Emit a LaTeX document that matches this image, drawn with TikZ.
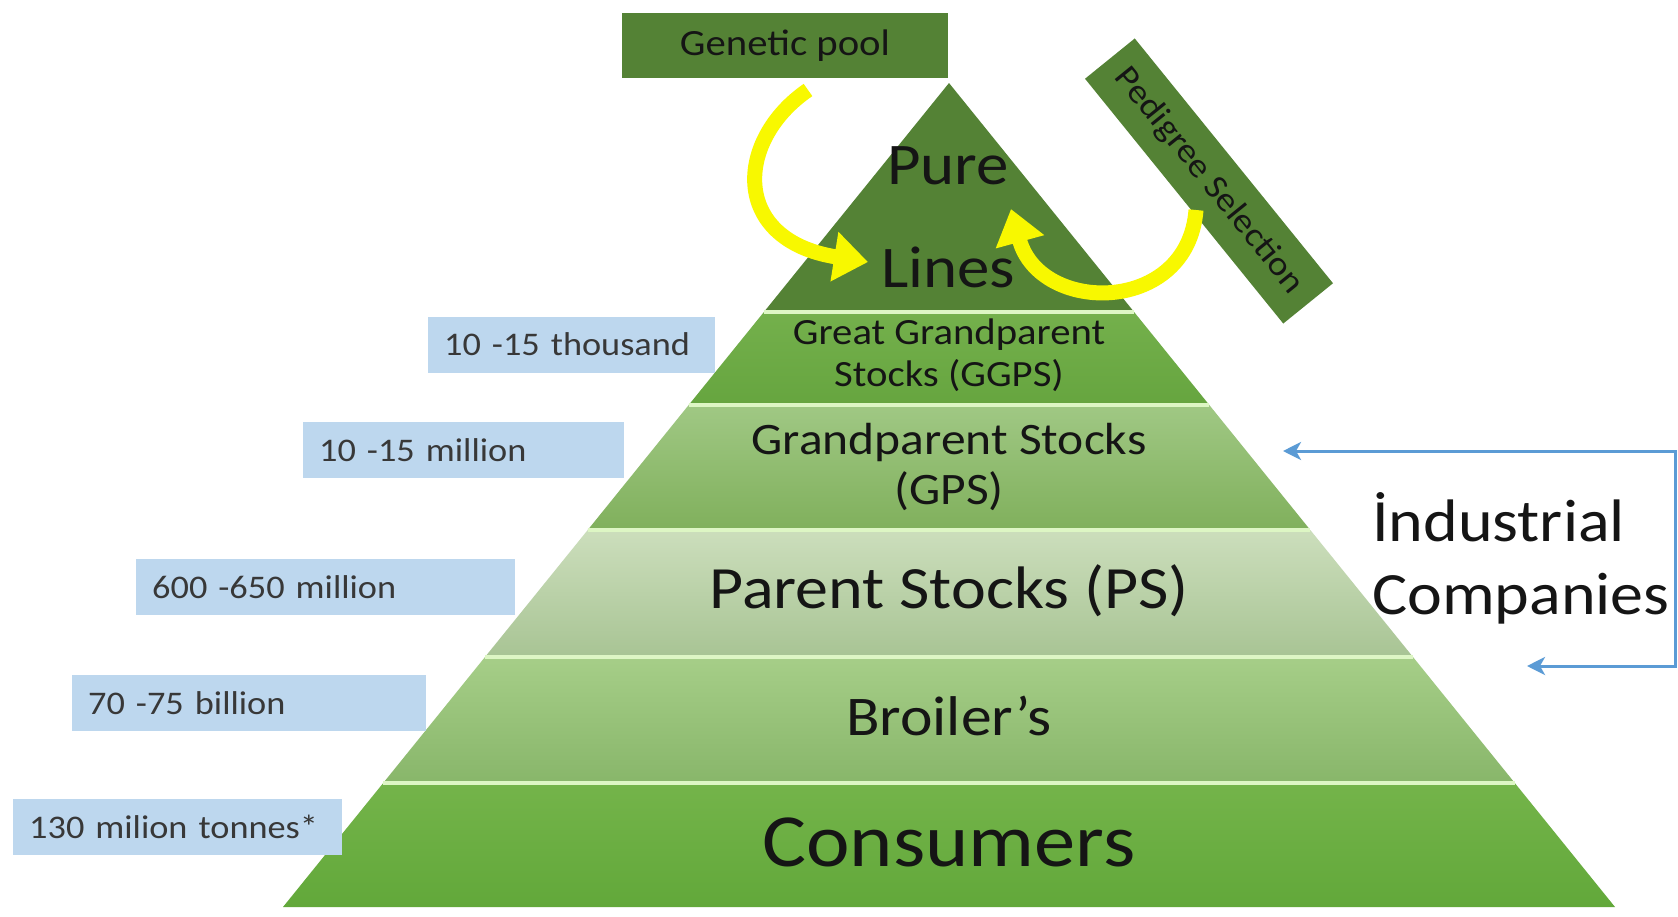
\documentclass[tikz,border=0pt]{standalone}
\usepackage{fontspec}
\setmainfont{Carlito}[FakeStretch=1.1]
\usetikzlibrary{arrows.meta}
\definecolor{dkgreen}{HTML}{548235}
\definecolor{lblue}{HTML}{BDD7EE}
\definecolor{sepgreen}{HTML}{DDF6C4}
\definecolor{arrblue}{HTML}{5B9BD5}
\definecolor{yel}{HTML}{F8F800}
\definecolor{txt}{HTML}{151515}
\definecolor{ggT}{HTML}{74B04C}
\definecolor{ggB}{HTML}{66A53F}
\definecolor{gpT}{RGB}{160,200,132}
\definecolor{gpB}{RGB}{128,176,92}
\definecolor{psT}{RGB}{204,222,188}
\definecolor{psB}{RGB}{168,196,148}
\definecolor{brT}{RGB}{166,206,136}
\definecolor{brB}{RGB}{136,182,106}
\definecolor{coT}{RGB}{116,180,74}
\definecolor{coB}{RGB}{98,168,58}
\newcommand{\fs}[1]{\fontsize{#1}{#1}\selectfont}
\tikzset{
  lbl/.style={fill=lblue, anchor=west, minimum height=56pt, inner xsep=16pt, inner ysep=0pt, align=left, text=txt!85!white, font=\fs{33}},
  bandtxt/.style={text=txt, align=center, inner sep=0pt},
  sepline/.style={draw=sepgreen, line width=4pt},
  yarrow/.style={draw=yel, line width=15pt, -{Triangle[length=34pt,width=48pt]}},
  barrow/.style={draw=arrblue, line width=3pt, {Stealth[length=18pt,width=18pt,inset=5pt]}-{Stealth[length=18pt,width=18pt,inset=5pt]}},
}
\begin{document}
\begin{tikzpicture}[x=1pt,y=-1pt]
\fill[white] (0,0) rectangle (1678,916);
\useasboundingbox (0,0) rectangle (1678,916);

% pyramid bands
\fill[dkgreen] (949,83) -- (1134.1,312) -- (763.9,312) -- cycle;
\shade[top color=ggT, bottom color=ggB] (763.9,312) -- (1134.1,312) -- (1209.3,405) -- (688.7,405) -- cycle;
\shade[top color=gpT, bottom color=gpB] (688.7,405) -- (1209.3,405) -- (1310.3,530) -- (587.7,530) -- cycle;
\shade[top color=psT, bottom color=psB] (587.7,530) -- (1310.3,530) -- (1413,657) -- (485,657) -- cycle;
\shade[top color=brT, bottom color=brB] (485,657) -- (1413,657) -- (1514.8,783) -- (383.2,783) -- cycle;
\shade[top color=coT, bottom color=coB] (383.2,783) -- (1514.8,783) -- (1615,907) -- (283,907) -- cycle;

% separator lines
\draw[sepline] (763.9,312) -- (1134.1,312);
\draw[sepline] (688.7,405) -- (1209.3,405);
\draw[sepline] (587.7,530) -- (1310.3,530);
\draw[sepline] (485,657) -- (1413,657);
\draw[sepline] (383.2,783) -- (1514.8,783);

% band texts
\node[bandtxt, anchor=base, font=\fs{59}] (pure) at (948,184) {Pure};
\node[bandtxt, anchor=base, font=\fs{59}] (lines) at (948,287) {Lines};
\node[bandtxt, font=\fs{37}, align=center] (ggps) at (949,355) {Great Grandparent\\[5pt]Stocks (GGPS)};
\node[bandtxt, font=\fs{45}, align=center] (gps) at (949,467) {Grandparent Stocks\\[5pt](GPS)};
\node[bandtxt, font=\fs{60}] (ps) at (949,591) {Parent Stocks (PS)};
\node[bandtxt, font=\fs{56}] (broil) at (949,716) {Broiler’s};
\node[bandtxt, font=\fs{75}] (cons) at (949,842) {Consumers};

% top boxes
\node[fill=dkgreen, minimum width=326pt, minimum height=65pt, inner sep=0pt, text=txt, font=\fs{37}] (gp) at (785,45.5) {Genetic pool};
\node[fill=dkgreen, minimum width=315pt, minimum height=64pt, inner sep=0pt, rotate=-51, text=txt, font=\fs{34}] (ped) at (1209,181) {Pedigree Selection};

% yellow arrows
\coordinate (ga) at (808,90);
\coordinate (gb) at (868,262);
\coordinate (pa) at (1196,210);
\coordinate (pb) at (1011,209);
\draw[yarrow] (ga) .. controls (735,140) and (730,240) .. (gb);
\draw[yarrow] (pa) .. controls (1188,315) and (1040,315) .. (pb);

% left labels
\node[lbl, text width=255pt] (l1) at (428,344.5) {\mbox{10 -15 thousand}};
\node[lbl, text width=289pt] (l2) at (303,450) {\mbox{10 -15 million}};
\node[lbl, text width=347pt] (l3) at (136,587) {\mbox{600 -650 million}};
\node[lbl, text width=322pt] (l4) at (72,703) {\mbox{70 -75 billion}};
\node[lbl, text width=297pt] (l5) at (13,826.5) {\mbox{130 milion tonnes*}};

% industrial companies
\node[anchor=west, inner sep=0pt, align=left, text=txt, font=\fs{60}] (ind) at (1372,558) {İndustrial\\[13pt]Companies};
\coordinate (bt) at (1675,451);
\coordinate (bb) at (1675,666);
\coordinate (gin) at (1283,451);
\coordinate (bin) at (1527,666);
\draw[barrow] (gin) -- (bt) -- (bb) -- (bin);
\end{tikzpicture}
\end{document}
